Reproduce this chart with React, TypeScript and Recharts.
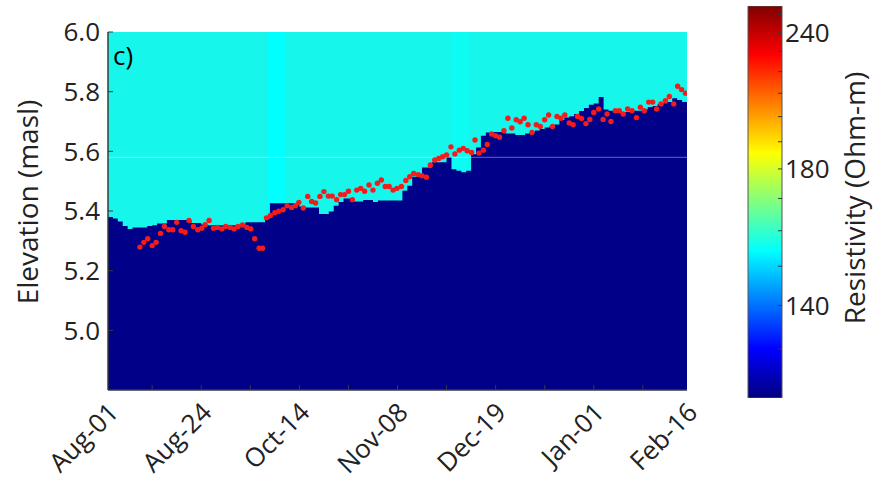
import React from "react";
import {
  ComposedChart,
  Area,
  Scatter,
  XAxis,
  YAxis,
  ReferenceArea,
  ReferenceLine,
  BarChart,
  Bar,
} from "recharts";

const FONT = "'Open Sans', 'DejaVu Sans', sans-serif";
const AXIS = "#3a3a3a";
const TEXT = "#222222";
const NAVY = "#000088";
const CYAN = "#16f6ea";

// top of the low-resistivity zone, one value per survey column (1..119)
const surface = [
  5.38, 5.375, 5.365, 5.35, 5.34, 5.345, 5.345, 5.345, 5.35, 5.352,
  5.358, 5.358, 5.37, 5.37, 5.37, 5.37, 5.37, 5.36, 5.36, 5.355,
  5.352, 5.352, 5.352, 5.352, 5.352, 5.352, 5.352, 5.352, 5.362, 5.362,
  5.362, 5.362, 5.375, 5.426, 5.426, 5.426, 5.426, 5.426, 5.42, 5.415,
  5.412, 5.412, 5.412, 5.39, 5.39, 5.398, 5.418, 5.43, 5.442, 5.442,
  5.432, 5.432, 5.437, 5.437, 5.43, 5.435, 5.435, 5.435, 5.435, 5.435,
  5.468, 5.485, 5.515, 5.515, 5.546, 5.546, 5.563, 5.563, 5.563, 5.58,
  5.54, 5.535, 5.53, 5.535, 5.59, 5.613, 5.652, 5.663, 5.665, 5.665,
  5.665, 5.66, 5.66, 5.655, 5.655, 5.66, 5.665, 5.67, 5.675, 5.68,
  5.685, 5.69, 5.705, 5.713, 5.718, 5.725, 5.735, 5.745, 5.756, 5.76,
  5.782, 5.74, 5.736, 5.733, 5.732, 5.732, 5.732, 5.736, 5.736, 5.74,
  5.749, 5.752, 5.758, 5.761, 5.765, 5.778, 5.772, 5.765, 5.765,
];

// surveyed surface elevations [column, masl]
const picks: [number, number][] = [
  [7.5, 5.279], [8.3, 5.295], [9.1, 5.307], [10.0, 5.284], [10.8, 5.295], [11.7, 5.325], [12.5, 5.348], [13.4, 5.337], [14.2, 5.337], [15.0, 5.362],
  [15.9, 5.334], [16.7, 5.329], [17.5, 5.368], [18.4, 5.348], [19.3, 5.337], [20.1, 5.342], [20.8, 5.354], [21.6, 5.368], [22.5, 5.342], [23.3, 5.345],
  [24.2, 5.34], [25.0, 5.348], [25.9, 5.345], [26.7, 5.34], [27.5, 5.348], [28.4, 5.353], [29.3, 5.345], [30.1, 5.34], [30.9, 5.307], [31.8, 5.275],
  [32.5, 5.275], [33.3, 5.377], [34.1, 5.385], [35.0, 5.394], [35.8, 5.399], [36.7, 5.404], [37.5, 5.418], [38.4, 5.412], [39.2, 5.418], [39.9, 5.429],
  [40.8, 5.41], [41.7, 5.449], [42.5, 5.432], [43.3, 5.427], [44.2, 5.449], [45.0, 5.465], [45.9, 5.45], [46.7, 5.45], [47.6, 5.438], [48.4, 5.455],
  [49.2, 5.455], [50.0, 5.466], [50.8, 5.438], [51.7, 5.47], [52.5, 5.476], [53.3, 5.466], [54.2, 5.487], [55.0, 5.47], [55.9, 5.493], [56.7, 5.504],
  [57.5, 5.482], [58.3, 5.482], [59.1, 5.47], [59.9, 5.476], [60.8, 5.482], [61.7, 5.502], [62.5, 5.515], [63.3, 5.526], [64.2, 5.522], [65.0, 5.518],
  [65.9, 5.513], [66.7, 5.554], [67.6, 5.571], [68.4, 5.576], [69.2, 5.582], [70.0, 5.588], [70.9, 5.615], [71.7, 5.591], [72.6, 5.604], [73.4, 5.61],
  [74.2, 5.602], [75.1, 5.596], [75.8, 5.638], [76.6, 5.594], [77.5, 5.604], [78.3, 5.623], [79.2, 5.658], [80.0, 5.652], [80.8, 5.647], [81.7, 5.669],
  [82.5, 5.711], [83.3, 5.678], [84.2, 5.706], [85.0, 5.699], [85.8, 5.711], [86.6, 5.689], [87.4, 5.663], [88.3, 5.689], [89.1, 5.683], [90.0, 5.706],
  [90.8, 5.722], [91.6, 5.683], [92.5, 5.717], [93.3, 5.711], [94.1, 5.722], [95.0, 5.695], [95.8, 5.689], [96.7, 5.717], [97.5, 5.71], [98.4, 5.693],
  [99.2, 5.707], [100.0, 5.73], [101.0, 5.742], [101.9, 5.707], [102.7, 5.725], [103.5, 5.7], [104.4, 5.736], [105.2, 5.736], [106.0, 5.725], [106.9, 5.742],
  [107.8, 5.736], [108.7, 5.713], [109.5, 5.748], [110.3, 5.736], [111.2, 5.765], [112.0, 5.765], [112.8, 5.742], [113.7, 5.759], [114.6, 5.77], [115.4, 5.784],
  [116.3, 5.759], [117.1, 5.818], [117.9, 5.807], [118.7, 5.795],
];

const dateTicks = [1, 20, 40, 60, 80, 100, 119];
const dateLabels = ["Aug-01", "Aug-24", "Oct-14", "Nov-08", "Dec-19", "Jan-01", "Feb-16"];
const minorTicks = [10, 20, 30, 40, 50, 60, 70, 80, 90, 100, 110];
const elevTicks = [5.0, 5.2, 5.4, 5.6, 5.8, 6.0];
// columns where the upper layer sits on a slightly brighter cyan level
const brightCols: [number, number, string][] = [
  [33.6, 37.2, "#00ffff"],
  [71, 74.5, "#0cfbf3"],
];

const resLabels = [140, 180, 240];
const resTicks = [130, 140, 150, 160, 170, 180, 190, 200, 210, 220, 230, 240, 250];
const RES_MIN = 120;
const RES_MAX = 255;

// colour scale is stretched in 1/sqrt(rho)
const resToT = (v: number) => -1 / Math.sqrt(v);

const surfaceRows = surface.map((v, i) => ({ x: i + 1, ground: v }));
const pickRows = picks.map(([x, y]) => ({ x, y }));
const bottomTicks = [1, ...minorTicks, 119];
const colorbarRows = [{ name: "scale", lo: resToT(RES_MIN), hi: resToT(RES_MAX) }];

const jetStops = [
  { offset: 0, color: "#000080" },
  { offset: 0.125, color: "#0000ff" },
  { offset: 0.375, color: "#00ffff" },
  { offset: 0.625, color: "#ffff00" },
  { offset: 0.875, color: "#ff0000" },
  { offset: 1, color: "#800000" },
];

function DateTick(props: any) {
  const { x, y, payload } = props;
  const v = payload.value;
  const k = dateTicks.indexOf(v);
  const lx = x + 12;
  const ly = y + 24;
  return (
    <g>
      {v % 10 === 0 && <line x1={x} x2={x} y1={y} y2={y - 5} stroke={AXIS} />}
      {k >= 0 && (
        <text
          x={lx}
          y={ly}
          transform={`rotate(-45 ${lx} ${ly})`}
          textAnchor="end"
          fontSize={26}
          fontFamily={FONT}
          fill={TEXT}
        >
          {dateLabels[k]}
        </text>
      )}
    </g>
  );
}

function ElevTick(props: any) {
  const { x, y, payload } = props;
  return (
    <g>
      <line x1={x} x2={x + 5} y1={y} y2={y} stroke={AXIS} />
      <text x={x - 8} y={y} dy="0.36em" textAnchor="end" fontSize={26} fontFamily={FONT} fill={TEXT}>
        {Number(payload.value).toFixed(1)}
      </text>
    </g>
  );
}

function ResTick(props: any) {
  const { x, y, payload } = props;
  const res = Math.round(1 / (payload.value * payload.value));
  return (
    <g>
      <line x1={x} x2={x - 4} y1={y} y2={y} stroke={AXIS} />
      {resLabels.includes(res) && (
        <text x={x + 3} y={y} dy="0.36em" textAnchor="start" fontSize={26} fontFamily={FONT} fill={TEXT}>
          {res}
        </text>
      )}
    </g>
  );
}

function ElevTitle(props: any) {
  const vb = props.viewBox;
  const x = vb.x + 38;
  const y = vb.y + vb.height / 2 - 9;
  return (
    <text x={x} y={y} transform={`rotate(-90 ${x} ${y})`} textAnchor="middle" fontSize={28} fontFamily={FONT} fill={TEXT}>
      Elevation (masl)
    </text>
  );
}

function ResTitle(props: any) {
  const vb = props.viewBox;
  const x = vb.x + 83;
  const y = vb.y + vb.height / 2 - 4;
  return (
    <text x={x} y={y} transform={`rotate(-90 ${x} ${y})`} textAnchor="middle" fontSize={28} fontFamily={FONT} fill={TEXT}>
      Resistivity (Ohm-m)
    </text>
  );
}

const RedDot = (p: any) => <circle cx={p.cx} cy={p.cy} r={2.7} fill="#f21c1c" />;

export default function App() {
  return (
    <div
      style={{
        position: "fixed",
        left: 0,
        top: 0,
        width: 875,
        height: 487,
        background: "#fff",
        overflow: "hidden",
      }}
    >
      <div style={{ position: "absolute", left: 0, top: 0 }}>
        <ComposedChart width={735} height={487} data={surfaceRows} margin={{ top: 32, right: 48, bottom: 0, left: 0 }}>
          <XAxis
            dataKey="x"
            type="number"
            domain={[1, 119]}
            ticks={bottomTicks}
            interval={0}
            allowDataOverflow
            height={97}
            tickSize={0}
            tickMargin={0}
            tickLine={false}
            tick={(p: any) => <DateTick {...p} />}
            axisLine={{ stroke: AXIS, strokeWidth: 1.5 }}
          />
          <XAxis
            xAxisId="top"
            orientation="top"
            type="number"
            domain={[1, 119]}
            ticks={minorTicks}
            interval={0}
            allowDataOverflow
            height={0}
            mirror
            tick={false}
            tickSize={5}
            tickLine={{ stroke: AXIS }}
            axisLine={{ stroke: AXIS, strokeWidth: 1.5 }}
          />
          <YAxis
            type="number"
            domain={[4.8, 6]}
            ticks={elevTicks}
            interval={0}
            allowDataOverflow
            width={108}
            tickSize={0}
            tickMargin={0}
            tickLine={false}
            tick={(p: any) => <ElevTick {...p} />}
            axisLine={{ stroke: AXIS, strokeWidth: 1.5 }}
            label={{ content: (p: any) => <ElevTitle {...p} /> }}
          />
          <YAxis
            yAxisId="right"
            orientation="right"
            type="number"
            domain={[4.8, 6]}
            ticks={elevTicks}
            interval={0}
            allowDataOverflow
            width={0}
            mirror
            tick={false}
            tickSize={5}
            tickLine={{ stroke: AXIS }}
            axisLine={{ stroke: AXIS, strokeWidth: 1.5 }}
          />
          <ReferenceArea x1={1} x2={119} y1={4.8} y2={6} fill={CYAN} fillOpacity={1} stroke="none" />
          {brightCols.map(([a, b, c]) => (
            <ReferenceArea key={a} x1={a} x2={b} y1={4.8} y2={6} fill={c} fillOpacity={1} stroke="none" />
          ))}
          <Area
            type="stepAfter"
            dataKey="ground"
            baseValue="dataMin"
            fill={NAVY}
            fillOpacity={1}
            stroke="none"
            isAnimationActive={false}
          />
          <ReferenceLine y={5.58} stroke="#ffffff" strokeOpacity={0.4} strokeWidth={1} />
          <Scatter data={pickRows} dataKey="y" shape={RedDot} isAnimationActive={false} />
        </ComposedChart>
      </div>
      <div
        style={{
          position: "absolute",
          left: 113,
          top: 42,
          fontFamily: FONT,
          fontSize: 26,
          lineHeight: "26px",
          color: "#000",
        }}
      >
        c)
      </div>
      <div style={{ position: "absolute", left: 740, top: 0 }}>
        <BarChart
          width={135}
          height={487}
          data={colorbarRows}
          margin={{ top: 6, right: 0, bottom: 89, left: 8 }}
          barCategoryGap={0}
        >
          <defs>
            <linearGradient id="jetScale" x1="0" y1="1" x2="0" y2="0">
              {jetStops.map((s) => (
                <stop key={s.offset} offset={s.offset} stopColor={s.color} />
              ))}
            </linearGradient>
          </defs>
          <XAxis dataKey="name" hide />
          <YAxis
            orientation="right"
            type="number"
            domain={[resToT(RES_MIN), resToT(RES_MAX)]}
            ticks={resTicks.map(resToT)}
            interval={0}
            allowDataOverflow
            width={93}
            tickSize={0}
            tickMargin={0}
            tickLine={false}
            axisLine={false}
            tick={(p: any) => <ResTick {...p} />}
            label={{ content: (p: any) => <ResTitle {...p} /> }}
          />
          <Bar
            dataKey={(d: any) => [d.lo, d.hi]}
            fill="url(#jetScale)"
            stroke="#555"
            strokeWidth={1}
            isAnimationActive={false}
          />
        </BarChart>
      </div>
    </div>
  );
}
